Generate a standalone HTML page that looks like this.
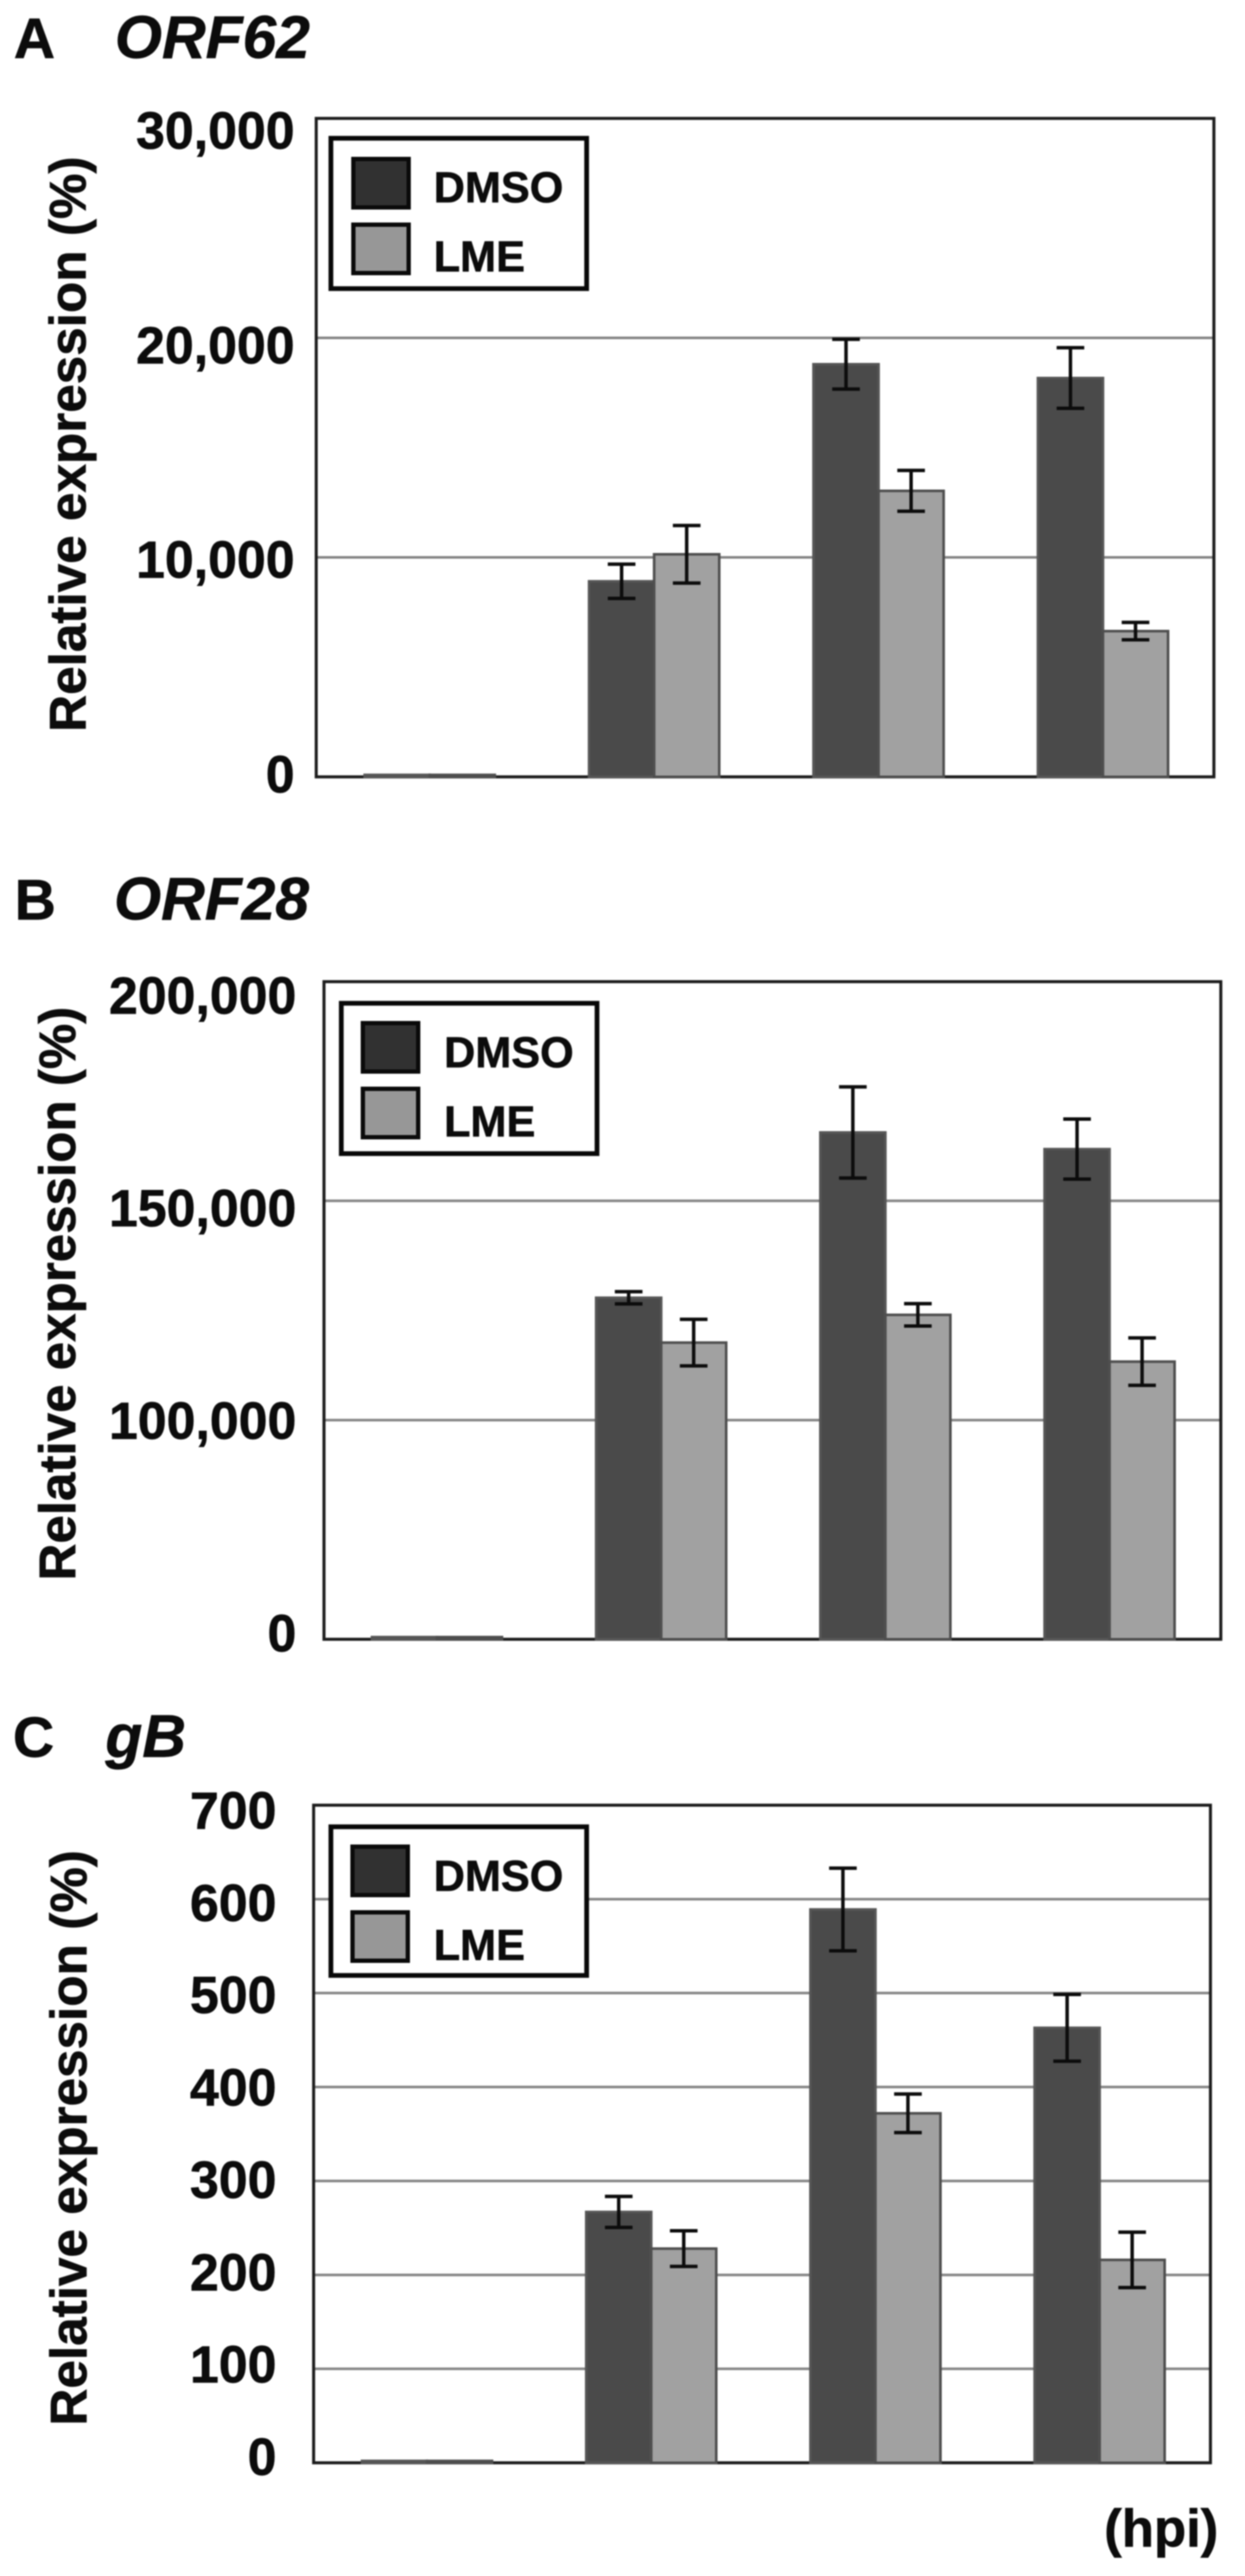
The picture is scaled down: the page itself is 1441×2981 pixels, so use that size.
<!DOCTYPE html>
<html lang="en">
<head>
<meta charset="utf-8">
<title>ORF62, ORF28 and gB relative expression</title>
<style>
html,body{margin:0;padding:0;background:#fff;}
svg{display:block;filter:blur(0.7px);}
text{font-family:"Liberation Sans",Arial,sans-serif;font-weight:700;fill:#0c0c0c;stroke:#0c0c0c;stroke-width:0.7px;}
</style>
</head>
<body>
<svg id="figure" xmlns="http://www.w3.org/2000/svg" width="1441" height="2981" viewBox="0 0 1441 2981">
  <rect x="0" y="0" width="1441" height="2981" fill="#fff"/>
  <text x="1278" y="2947" font-size="61">(hpi)</text>
</svg>
<script>
// ---- chart data ----
const timepoints = ['t1', 't2', 't3', 't4'];

const orf62Ticks = [0, 10000, 20000, 30000];
const orf62TickLabels = ['0', '10,000', '20,000', '30,000'];
const orf62Dmso = [90, 8910, 18800, 18170];
const orf62DmsoErr = [0, 780, 1135, 1380];
const orf62Lme = [90, 10140, 13030, 6640];
const orf62LmeErr = [0, 1310, 930, 395];

// The ORF28 axis is broken: its lowest tick is printed as 0 but sits at 50,000.
const orf28Ticks = [50000, 100000, 150000, 200000];
const orf28TickLabels = ['0', '100,000', '150,000', '200,000'];
const orf28Dmso = [50500, 127900, 165600, 161800];
const orf28DmsoErr = [0, 1390, 10400, 6850];
const orf28Lme = [50500, 117670, 124000, 113330];
const orf28LmeErr = [0, 5320, 2545, 5400];

const gbTicks = [0, 100, 200, 300, 400, 500, 600, 700];
const gbTickLabels = ['0', '100', '200', '300', '400', '500', '600', '700'];
const gbDmso = [2, 267, 589, 463];
const gbDmsoErr = [0, 16.5, 44, 35.5];
const gbLme = [2, 228, 372, 216];
const gbLmeErr = [0, 19, 20.5, 29.5];

const seriesNames = ['DMSO', 'LME'];

// ---- drawing ----
const NS = 'http://www.w3.org/2000/svg';
const root = document.getElementById('figure');

function mk(parent, tag, attrs, content) {
  const el = document.createElementNS(NS, tag);
  for (const key in attrs) el.setAttribute(key, attrs[key]);
  if (content !== undefined) el.textContent = content;
  parent.appendChild(el);
  return el;
}

function drawPanel(p) {
  const g = mk(root, 'g', {});
  
  

  const yMin = p.ticks[0];
  const yMax = p.ticks[p.ticks.length - 1];
  const y = v => p.bottom - (v - yMin) / (yMax - yMin) * (p.bottom - p.top);
  const band = (p.right - p.left) / timepoints.length;
  const xCenter = i => p.left + band * (i + 0.5);
  const barW = band * 0.29;

  // titles
  const letter = mk(g, 'text', {x: p.letterX, y: p.titleY, 'font-size': 66}, p.letter);
  
  
  const title = mk(g, 'text', {x: p.titleX, y: p.titleY, 'font-size': 70, 'font-style': 'italic'}, p.gene);
  
  

  // y axis title
  const yt = mk(g, 'text', {
    transform: 'translate(' + p.yTitleX + ',' + p.yTitleStart + ') rotate(-90)',
    x: 0, y: 0, 'font-size': 59, textLength: p.yTitleLen, lengthAdjust: 'spacingAndGlyphs'
  }, 'Relative expression (%)');
  
  

  // gridlines and tick labels
  p.ticks.forEach((t, i) => {
    if (i > 0 && i < p.ticks.length - 1) {
      const line = mk(g, 'line', {x1: p.left, x2: p.right, y1: y(t), y2: y(t), stroke: '#858585', 'stroke-width': 3});
      
      
    }
    const frac = i / (p.ticks.length - 1);
    const dy = p.labelDyBottom + (p.labelDyTop - p.labelDyBottom) * frac;
    const label = mk(g, 'text', {x: p.labelRight, y: y(t) + dy, 'font-size': 60, 'text-anchor': 'end'}, p.tickLabels[i]);
    
    
  });

  // plot frame
  const frame = mk(g, 'rect', {x: p.left, y: p.top, width: p.right - p.left, height: p.bottom - p.top, fill: 'none', stroke: '#1c1c1c', 'stroke-width': 3.5});
  
  

  // bars and error bars
  const series = [
    {name: 'dmso', values: p.dmso, errs: p.dmsoErr, fill: '#4a4a4a', stroke: '#565656', off: -1},
    {name: 'lme', values: p.lme, errs: p.lmeErr, fill: '#a1a1a1', stroke: '#4e4e4e', off: 0}
  ];
  series.forEach(s => {
    timepoints.forEach((tp, i) => {
      const x0 = xCenter(i) + s.off * barW + p.barShift;
      const top = y(s.values[i]);
      const bar = mk(g, 'rect', {x: x0, y: top, width: barW, height: Math.max(p.bottom - top, 0), fill: s.fill, stroke: s.stroke, 'stroke-width': 3});
      
      
    });
  });
  series.forEach(s => {
    timepoints.forEach((tp, i) => {
      if (!s.errs[i]) return;
      const cx = xCenter(i) + s.off * barW + barW / 2 + p.barShift;
      const hi = y(s.values[i] + s.errs[i]);
      const lo = y(s.values[i] - s.errs[i]);
      const capW = 16;
      const eg = mk(g, 'g', {stroke: '#0c0c0c', 'stroke-width': 4, fill: 'none'});
      
      
      mk(eg, 'line', {x1: cx, x2: cx, y1: hi, y2: lo});
      mk(eg, 'line', {x1: cx - capW, x2: cx + capW, y1: hi, y2: hi});
      mk(eg, 'line', {x1: cx - capW, x2: cx + capW, y1: lo, y2: lo});
    });
  });

  // legend
  const lg = mk(g, 'g', {});
  
  
  const L = p.legend;
  mk(lg, 'rect', {x: L.x, y: L.y, width: L.w, height: L.h, fill: '#fff', stroke: '#080808', 'stroke-width': 5.5});
  seriesNames.forEach((name, i) => {
    const entry = mk(lg, 'g', {});
    
    
    mk(entry, 'rect', {x: L.swatchX, y: L.swatchY[i], width: L.swatchW, height: L.swatchH, fill: i === 0 ? '#313131' : '#979797', stroke: '#0a0a0a', 'stroke-width': 5});
    mk(entry, 'text', {x: L.textX, y: L.textY[i], 'font-size': 50}, name);
  });
}

drawPanel({
  id: 'a', letter: 'A', gene: 'ORF62', letterX: 16, titleX: 133, titleY: 67,
  left: 366, right: 1405, top: 137, bottom: 899, barShift: 1.5,
  ticks: orf62Ticks, tickLabels: orf62TickLabels,
  dmso: orf62Dmso, dmsoErr: orf62DmsoErr, lme: orf62Lme, lmeErr: orf62LmeErr,
  labelRight: 341, labelDyTop: 35, labelDyBottom: 18,
  yTitleX: 99, yTitleStart: 847, yTitleLen: 666,
  legend: {x: 383, y: 160, w: 296, h: 174, swatchX: 409, swatchW: 64, swatchH: 56, swatchY: [184, 260], textX: 502, textY: [234, 314]}
});

drawPanel({
  id: 'b', letter: 'B', gene: 'ORF28', letterX: 17, titleX: 132, titleY: 1064,
  left: 375, right: 1413, top: 1136, bottom: 1897, barShift: 1,
  ticks: orf28Ticks, tickLabels: orf28TickLabels,
  dmso: orf28Dmso, dmsoErr: orf28DmsoErr, lme: orf28Lme, lmeErr: orf28LmeErr,
  labelRight: 343, labelDyTop: 37, labelDyBottom: 14,
  yTitleX: 87, yTitleStart: 1829, yTitleLen: 664,
  legend: {x: 395, y: 1161, w: 296, h: 174, swatchX: 420, swatchW: 64, swatchH: 56, swatchY: [1184, 1260], textX: 514, textY: [1235, 1315]}
});

drawPanel({
  id: 'c', letter: 'C', gene: 'gB', letterX: 15, titleX: 122, titleY: 2033,
  left: 363, right: 1401, top: 2089, bottom: 2850, barShift: 1.5,
  ticks: gbTicks, tickLabels: gbTickLabels,
  dmso: gbDmso, dmsoErr: gbDmsoErr, lme: gbLme, lmeErr: gbLmeErr,
  labelRight: 320, labelDyTop: 27, labelDyBottom: 14,
  yTitleX: 100, yTitleStart: 2807, yTitleLen: 666,
  legend: {x: 383, y: 2114, w: 296, h: 172, swatchX: 408, swatchW: 64, swatchH: 56, swatchY: [2137, 2213], textX: 502, textY: [2188, 2268]}
});
</script>
</body>
</html>
